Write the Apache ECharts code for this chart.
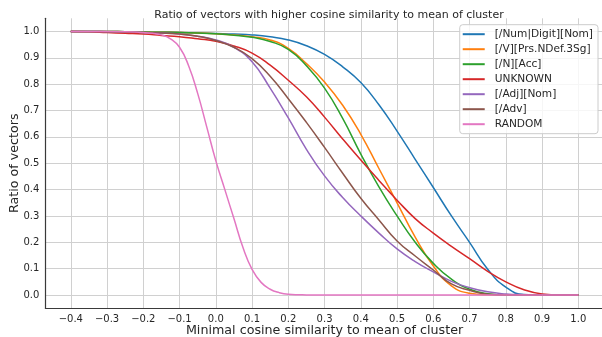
<!DOCTYPE html>
<html>
<head>
<meta charset="utf-8">
<script src="https://cdn.jsdelivr.net/npm/echarts@6/dist/echarts.min.js"></script>
<style>html,body{margin:0;padding:0;background:#fff;}#chart{width:602px;height:337px;}</style>
</head>
<body>
<div id="chart"></div>
<script>
const xValues = [-0.4, -0.35, -0.3, -0.25, -0.2, -0.15, -0.1, -0.05, 0.0, 0.05, 0.1, 0.15, 0.2, 0.25, 0.3, 0.35, 0.4, 0.45, 0.5, 0.55, 0.6, 0.65, 0.7, 0.75, 0.8, 0.85, 0.9, 0.95, 1.0];

const seriesNames = ['[/Num|Digit][Nom]', '[/V][Prs.NDef.3Sg]', '[/N][Acc]', 'UNKNOWN', '[/Adj][Nom]', '[/Adv]', 'RANDOM'];
const seriesColors = ['#1f77b4', '#ff7f0e', '#2ca02c', '#d62728', '#9467bd', '#8c564b', '#e377c2'];

const numDigitNom = [1.0, 1.0, 1.0, 0.999, 0.998, 0.997, 0.996, 0.994, 0.992, 0.99, 0.987, 0.98, 0.968, 0.946, 0.913, 0.866, 0.806, 0.722, 0.622, 0.515, 0.408, 0.30, 0.20, 0.098, 0.03, 0.002, 0, 0, 0];
const vPrsNDef3Sg = [1.0, 1.0, 1.0, 0.999, 0.998, 0.997, 0.996, 0.994, 0.991, 0.987, 0.98, 0.968, 0.936, 0.878, 0.808, 0.72, 0.61, 0.48, 0.35, 0.22, 0.11, 0.035, 0.007, 0.001, 0, 0, 0, 0, 0];
const nAcc = [1.0, 1.0, 1.0, 0.999, 0.998, 0.997, 0.996, 0.994, 0.991, 0.986, 0.978, 0.962, 0.932, 0.87, 0.785, 0.67, 0.535, 0.41, 0.30, 0.2, 0.12, 0.06, 0.022, 0.005, 0, 0, 0, 0, 0];
const unknown = [1.0, 0.999, 0.996, 0.993, 0.99, 0.985, 0.98, 0.972, 0.963, 0.945, 0.918, 0.872, 0.815, 0.752, 0.675, 0.592, 0.512, 0.435, 0.36, 0.29, 0.235, 0.185, 0.138, 0.09, 0.05, 0.02, 0.004, 0, 0];
const adjNom = [1.0, 1.0, 0.999, 0.998, 0.996, 0.994, 0.99, 0.982, 0.968, 0.94, 0.885, 0.785, 0.672, 0.553, 0.452, 0.37, 0.30, 0.235, 0.175, 0.127, 0.088, 0.052, 0.028, 0.012, 0.004, 0.001, 0, 0, 0];
const adv = [1.0, 1.0, 0.999, 0.998, 0.996, 0.994, 0.99, 0.982, 0.966, 0.94, 0.897, 0.83, 0.745, 0.655, 0.56, 0.462, 0.367, 0.285, 0.205, 0.148, 0.095, 0.042, 0.018, 0.003, 0, 0, 0, 0, 0];

const randomX = [-0.4, -0.3, -0.25, -0.2, -0.175, -0.15, -0.125, -0.1, -0.075, -0.05, -0.025, 0.0, 0.025, 0.05, 0.075, 0.1, 0.125, 0.15, 0.175, 0.2, 0.25, 0.3, 0.4, 0.6, 0.8, 1.0];
const random = [1.0, 1.0, 0.999, 0.996, 0.993, 0.987, 0.972, 0.94, 0.87, 0.765, 0.638, 0.51, 0.40, 0.29, 0.18, 0.097, 0.048, 0.022, 0.009, 0.003, 0.0005, 0, 0, 0, 0, 0];

const xTicks = [-0.4, -0.3, -0.2, -0.1, 0.0, 0.1, 0.2, 0.3, 0.4, 0.5, 0.6, 0.7, 0.8, 0.9, 1.0];
const yTicks = [0.0, 0.1, 0.2, 0.3, 0.4, 0.5, 0.6, 0.7, 0.8, 0.9, 1.0];

const titleText = 'Ratio of vectors with higher cosine similarity to mean of cluster';
const xName = 'Minimal cosine similarity to mean of cluster';
const yName = 'Ratio of vectors';

const seriesX = [xValues, xValues, xValues, xValues, xValues, xValues, randomX];
const seriesY = [numDigitNom, vPrsNDef3Sg, nAcc, unknown, adjNom, adv, random];

const FONT = 'DejaVu Sans';
const TXT = '#262626';
const GRIDC = '#d0d0d0';
const AXC = '#3a3a3a';

function fmt(v) {
  const s = Math.abs(v).toFixed(1);
  return (v < -1e-9 ? '\u2212' : '') + s;
}

const chart = echarts.init(document.getElementById('chart'), null, {renderer: 'canvas'});
chart.setOption({
  animation: false,
  backgroundColor: '#ffffff',
  title: {
    text: titleText,
    left: 324,
    top: 5,
    textAlign: 'center',
    textStyle: {fontFamily: FONT, fontSize: 11, fontWeight: 'normal', color: TXT}
  },
  grid: {left: 45.4, top: 18.3, width: 558.3, height: 289.9, containLabel: false, outerBoundsMode: 'none'},
  xAxis: {
    type: 'value',
    min: -0.47,
    max: 1.07,
    name: xName,
    nameLocation: 'middle',
    nameGap: 16,
    nameMoveOverlap: false,
    nameTextStyle: {fontFamily: FONT, fontSize: 12.7, color: TXT},
    axisLine: {show: true, onZero: false, lineStyle: {color: AXC, width: 1.2}},
    axisTick: {show: false, customValues: xTicks},
    axisLabel: {customValues: xTicks, formatter: fmt, fontFamily: FONT, fontSize: 10, color: TXT, margin: 6},
    splitLine: {show: true, lineStyle: {color: GRIDC, width: 1}}
  },
  yAxis: {
    type: 'value',
    min: -0.05,
    max: 1.05,
    name: yName,
    nameLocation: 'middle',
    nameGap: 24,
    nameMoveOverlap: false,
    nameTextStyle: {fontFamily: FONT, fontSize: 12.7, color: TXT},
    axisLine: {show: true, onZero: false, lineStyle: {color: AXC, width: 1.2}},
    axisTick: {show: false, customValues: yTicks},
    axisLabel: {customValues: yTicks, formatter: fmt, fontFamily: FONT, fontSize: 10, color: TXT, margin: 6},
    splitLine: {show: true, lineStyle: {color: GRIDC, width: 1}}
  },
  legend: {
    orient: 'vertical',
    right: 4,
    top: 24.7,
    padding: [4, 5, 4, 3],
    itemGap: 4,
    itemWidth: 22,
    itemHeight: 2,
    icon: 'rect',
    backgroundColor: 'rgba(255,255,255,0.8)',
    borderColor: '#cccccc',
    borderWidth: 1,
    borderRadius: 3,
    textStyle: {fontFamily: FONT, fontSize: 10.6, color: TXT, padding: [0, 0, 0, 5]},
    data: seriesNames
  },
  series: seriesY.map((vals, i) => ({
    name: seriesNames[i],
    type: 'line',
    data: seriesX[i].map((x, j) => [x, vals[j]]),
    showSymbol: false,
    symbol: 'none',
    smooth: 0.5,
    lineStyle: {color: seriesColors[i], width: 1.5},
    itemStyle: {color: seriesColors[i]},
    z: 2 + i
  }))
});
</script>
</body>
</html>
